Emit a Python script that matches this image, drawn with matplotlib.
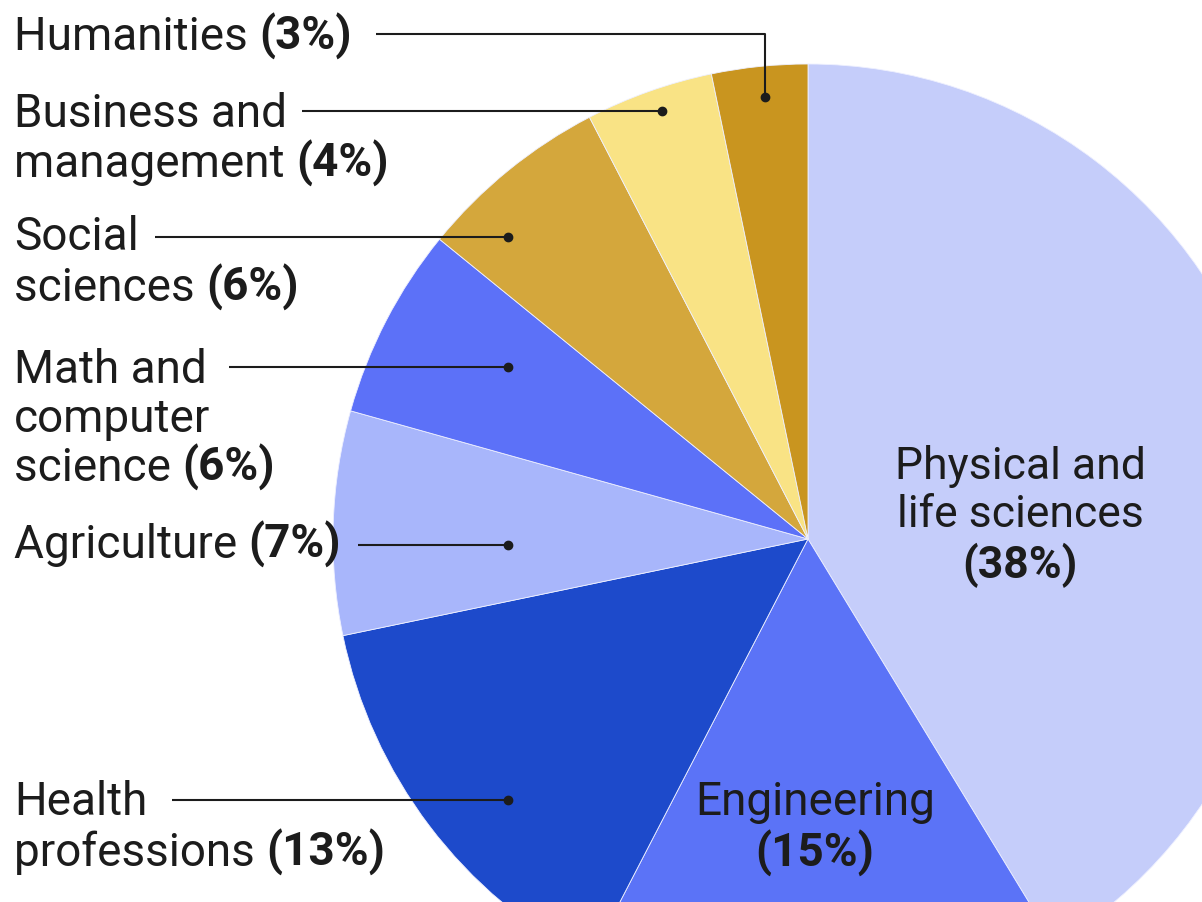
import matplotlib.pyplot as plt

plt.rcParams['font.family'] = ['Roboto', 'DejaVu Sans']

# data
categories = ["Physical and life sciences", "Engineering", "Health professions",
              "Agriculture", "Math and computer science", "Social sciences",
              "Business and management", "Humanities"]
shares = [38, 15, 13, 7, 6, 6, 4, 3]
colors = ["#c5cdfa", "#5b73f7", "#1d4acb", "#a8b6fb", "#5c71f8",
          "#d4a73c", "#f9e385", "#c9951f"]

W, H = 1202, 903
FS = 33
INK = "#1c1c1c"


def Y(y):
    return H - y


fig = plt.figure(figsize=(W / 100, H / 100), dpi=100)
ax = fig.add_axes([0, 0, 1, 1])

ax.pie(shares, colors=colors, startangle=90, counterclock=False,
       center=(808, Y(540)), radius=475, frame=True,
       wedgeprops=dict(edgecolor="#eef0ff", linewidth=0.6))
ax.set_xlim(0, W)
ax.set_ylim(0, H)
ax.set_aspect("equal")
ax.axis("off")


def label(lines, pct, x, baselines, ha="left"):
    # text lines, the last one followed by the bold percentage
    for i, (txt, yb) in enumerate(zip(lines, baselines)):
        last = i == len(lines) - 1
        t = ax.text(x, Y(yb), txt + (" " if last else ""), fontsize=FS,
                    color=INK, ha=ha, va="baseline")
        if last:
            ax.annotate(f"({pct}%)", xy=(1, Y(yb)), xycoords=(t, "data"),
                        fontsize=FS, color=INK, ha="left", va="baseline",
                        weight="bold")


def leader(pts):
    xs = [p[0] for p in pts]
    ys = [Y(p[1]) for p in pts]
    ax.plot(xs, ys, color=INK, lw=1.5, solid_capstyle="butt")
    ax.plot(xs[-1], ys[-1], "o", color=INK, ms=6)


# outside labels (left column)
label(["Humanities"], shares[7], 14, [50])
leader([(376, 35), (765, 35), (765, 98)])

label(["Business and", "management"], shares[6], 14, [127, 177])
leader([(302, 112), (662, 112)])

label(["Social", "sciences"], shares[5], 14, [250, 301])
leader([(155, 238), (508, 238)])

label(["Math and", "computer", "science"], shares[4], 14, [383, 432, 481])
leader([(229, 368), (508, 368)])

label(["Agriculture"], shares[3], 14, [558])
leader([(358, 546), (508, 546)])

label(["Health", "professions"], shares[2], 14, [815, 866])
leader([(172, 801), (508, 801)])

# inside labels
for txt, yb in [("Physical and", 479), ("life sciences", 527)]:
    ax.text(1020, Y(yb), txt, fontsize=FS - 1, color=INK, ha="center", va="baseline")
ax.text(1020, Y(578), f"({shares[0]}%)", fontsize=FS - 1, color=INK, ha="center",
        va="baseline", weight="bold")

ax.text(815, Y(815), "Engineering", fontsize=FS, color=INK, ha="center", va="baseline")
ax.text(815, Y(867), f"({shares[1]}%)", fontsize=FS, color=INK, ha="center",
        va="baseline", weight="bold")

fig.savefig("out.png", dpi=100, facecolor="white")
